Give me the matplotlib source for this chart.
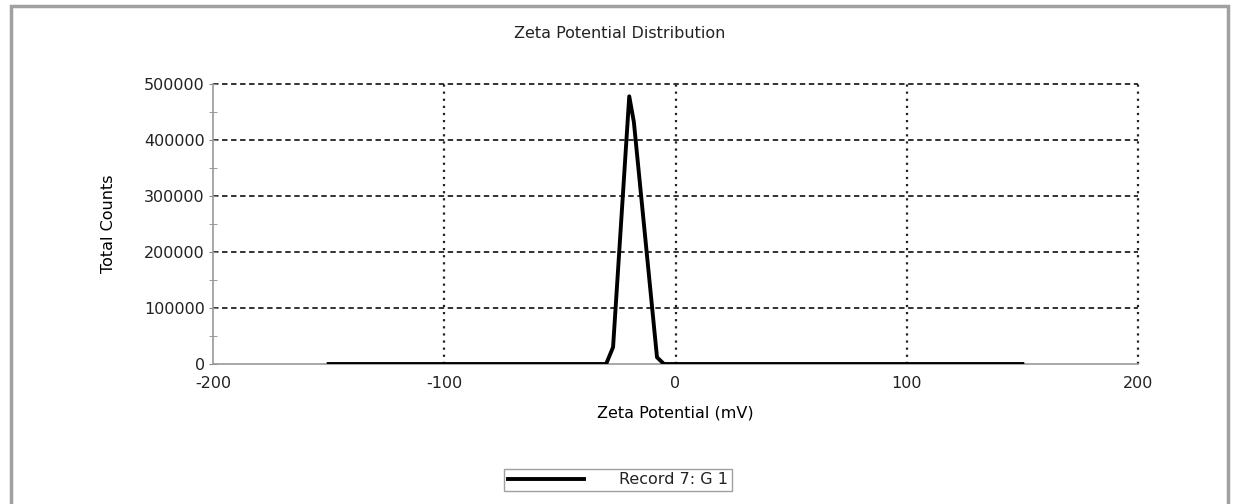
import matplotlib
matplotlib.use("Agg")
import matplotlib.pyplot as plt
from matplotlib.patches import Rectangle

plt.rcParams['font.family'] = ['DejaVu Sans']
plt.rcParams['axes.unicode_minus'] = False
plt.rcParams['text.color'] = '#222222'

# zeta potential (mV) vs total counts
zeta = [-150, -120, -90, -60, -40, -30, -27, -20, -18, -8, -5, 0, 30, 60, 90, 120, 150]
counts = [0, 0, 0, 0, 0, 0, 30000, 478000, 432000, 12000, 0, 0, 0, 0, 0, 0, 0]

x_ticks = [-200, -100, 0, 100, 200]
y_ticks = [0, 100000, 200000, 300000, 400000, 500000]

fs = 11.5

fig = plt.figure(figsize=(12.34, 5.04), dpi=100)
fig.patches.append(Rectangle((11 / 1234, -0.1), 1217 / 1234, 1.1 - 6 / 504,
                             transform=fig.transFigure, fill=False,
                             edgecolor='#a0a0a0', linewidth=2.5))

ax = fig.add_axes([213 / 1234, 1 - 364 / 504, 925 / 1234, 280 / 504])
ax.set_xlim(-200, 200)
ax.set_ylim(0, 500000)

for y in y_ticks[1:]:
    ax.axhline(y, color='#222222', linestyle=(0, (3, 2)), linewidth=1.3, clip_on=False, zorder=1)
for x in x_ticks[1:]:
    ax.axvline(x, color='#222222', linestyle=(0, (1, 2.2)), linewidth=1.6, clip_on=False, zorder=1)

ax.plot(zeta, counts, color='black', linewidth=2.8, label='Record 7: G 1', zorder=3)

ax.set_xticks(x_ticks)
ax.set_yticks(y_ticks)
ax.set_yticks(range(50000, 500000, 100000), minor=True)
ax.set_yticklabels([str(v) for v in y_ticks])
ax.tick_params(axis='y', which='both', direction='inout', length=6, color='#888888',
               labelsize=fs, labelcolor='#222222', pad=3)
ax.tick_params(axis='x', length=0, labelsize=fs, labelcolor='#222222', pad=9)

for s in ['top', 'right']:
    ax.spines[s].set_visible(False)
for s in ['left', 'bottom']:
    ax.spines[s].set_color('#999999')
    ax.spines[s].set_linewidth(1.2)

fig.text(620 / 1234, 1 - 33 / 504, 'Zeta Potential Distribution', fontsize=fs,
         ha='center', va='center')
ax.set_xlabel('Zeta Potential (mV)', fontsize=fs)
ax.xaxis.set_label_coords(0.5, (364 - 405) / 280)
ax.set_ylabel('Total Counts', fontsize=fs)
ax.yaxis.set_label_coords((116 - 213) / 925, 0.5)

fig.legend(loc='center', bbox_to_anchor=(618 / 1234, 1 - 480 / 504), fontsize=fs,
           frameon=True, fancybox=False, edgecolor='#888888', handlelength=4.8,
           borderpad=0.25, handletextpad=2.2)

fig.savefig('out.png', dpi=100, facecolor='white')
